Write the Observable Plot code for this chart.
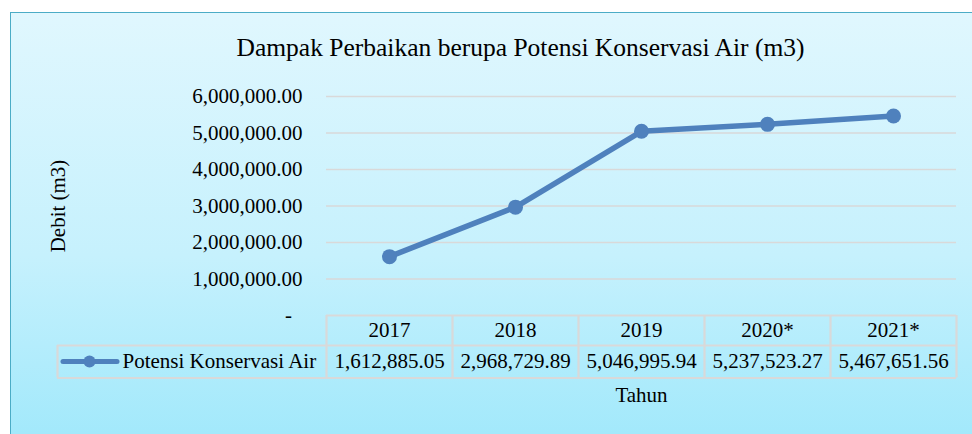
<!DOCTYPE html>
<html>
<head>
<meta charset="utf-8">
<script src="https://cdn.jsdelivr.net/npm/d3@7"></script>
<script src="https://cdn.jsdelivr.net/npm/@observablehq/plot@0.6"></script>
<style>
  html, body { margin: 0; padding: 0; background: #fff; width: 972px; height: 434px; overflow: hidden; }
  #wrap { position: relative; width: 972px; height: 434px; }
  #bg { position: absolute; left: 10px; top: 12px; width: 1000px; height: 440px;
        border-left: 1.6px solid #4bacc6; border-top: 1.6px solid #4bacc6;
        background: linear-gradient(to bottom, #e0f7fe 0%, #c6f1fd 55%, #9fe8fb 100%); }
  #chart { position: absolute; left: 0; top: 0; }
</style>
</head>
<body>
<div id="wrap"><div id="bg"></div><div id="chart"></div></div>
<script>
const chartTitle = "Dampak Perbaikan berupa Potensi Konservasi Air (m3)";
const yLabel = "Debit (m3)";
const xLabel = "Tahun";
const seriesName = "Potensi Konservasi Air";
const years = ["2017", "2018", "2019", "2020*", "2021*"];
const values = [1612885.05, 2968729.89, 5046995.94, 5237523.27, 5467651.56];
const yTicks = [0, 1000000, 2000000, 3000000, 4000000, 5000000, 6000000];

const data = years.map((year, i) => ({year, value: values[i]}));

const W = 972, H = 434;
const ML = 326, MR = 16, MT = 96, MB = 119;
const step = (W - ML - MR) / years.length;
const half = step / 2;
const lineColor = "#4f81bd";
const gridColor = "#d9d9d9";
const legendLeft = 57;       // left edge of legend cell
const fmt = d3.format(",.2f");
const yFmt = d => d === 0 ? "-\u00a0\u00a0" : fmt(d);

const plot = Plot.plot({
  width: W,
  height: H,
  marginLeft: ML,
  marginRight: MR,
  marginTop: MT,
  marginBottom: MB,
  style: {background: "transparent", fontFamily: "'Liberation Serif', 'Times New Roman', serif", fontSize: "21px", color: "#000", overflow: "visible"},
  x: {type: "point", domain: years, padding: 0.5, axis: null},
  y: {domain: [0, 6000000], axis: null},
  marks: [
    // gridlines
    Plot.ruleY(yTicks.filter(d => d > 0), {stroke: gridColor, strokeWidth: 1.6}),
    // y axis labels
    Plot.axisY({ticks: yTicks, tickFormat: yFmt, tickSize: 0, tickPadding: 24, fontSize: 21, label: null}),
    // y label
    Plot.text([yLabel], {frameAnchor: "left", dx: 58 - ML, rotate: -90, textAnchor: "middle", lineAnchor: "middle", fontSize: 21}),
    // title
    Plot.text([chartTitle], {frameAnchor: "top", dx: -121, dy: -41, lineAnchor: "bottom", textAnchor: "middle", fontSize: 25.5}),
    // data table borders
    Plot.ruleY([0], {stroke: gridColor, strokeWidth: 2.2}),
    Plot.ruleY([0], {dy: 30, insetLeft: legendLeft - ML, stroke: gridColor, strokeWidth: 2.2}),
    Plot.ruleY([0], {dy: 62.5, insetLeft: legendLeft - ML, stroke: gridColor, strokeWidth: 2.2}),
    Plot.ruleX(years, {x: d => d, dx: -half, y1: 0, y2: 0, insetBottom: -62.5, stroke: gridColor, strokeWidth: 2.2}),
    Plot.ruleX([years[years.length - 1]], {x: d => d, dx: half, y1: 0, y2: 0, insetBottom: -62.5, stroke: gridColor, strokeWidth: 2.2}),
    Plot.ruleX([years[0]], {x: d => d, dx: -half - (ML - legendLeft), y1: 0, y2: 0, insetTop: 30, insetBottom: -62.5, stroke: gridColor, strokeWidth: 2.2}),
    // table header (categories)
    Plot.text(years, {x: d => d, frameAnchor: "bottom", dy: 15, lineAnchor: "middle", fontSize: 21}),
    // table values
    Plot.text(data, {x: "year", text: d => fmt(d.value), frameAnchor: "bottom", dy: 46, lineAnchor: "middle", fontSize: 21}),
    // legend key in table
    Plot.ruleY([0], {dy: 46, insetLeft: 63 - ML, insetRight: (W - MR) - 117, stroke: lineColor, strokeWidth: 5, strokeLinecap: "round"}),
    Plot.dot([seriesName], {frameAnchor: "bottom-left", dx: 89 - ML, dy: 46, r: 6, fill: lineColor}),
    Plot.text([seriesName], {frameAnchor: "bottom-left", dx: 122 - ML, dy: 46, textAnchor: "start", lineAnchor: "middle", fontSize: 21}),
    // x label
    Plot.text([xLabel], {frameAnchor: "bottom", dy: 80, lineAnchor: "middle", fontSize: 21}),
    // series
    Plot.line(data, {x: "year", y: "value", stroke: lineColor, strokeWidth: 5.5, strokeLinejoin: "round"}),
    Plot.dot(data, {x: "year", y: "value", r: 7.5, fill: lineColor})
  ]
});
document.getElementById("chart").appendChild(plot);
</script>
</body>
</html>
